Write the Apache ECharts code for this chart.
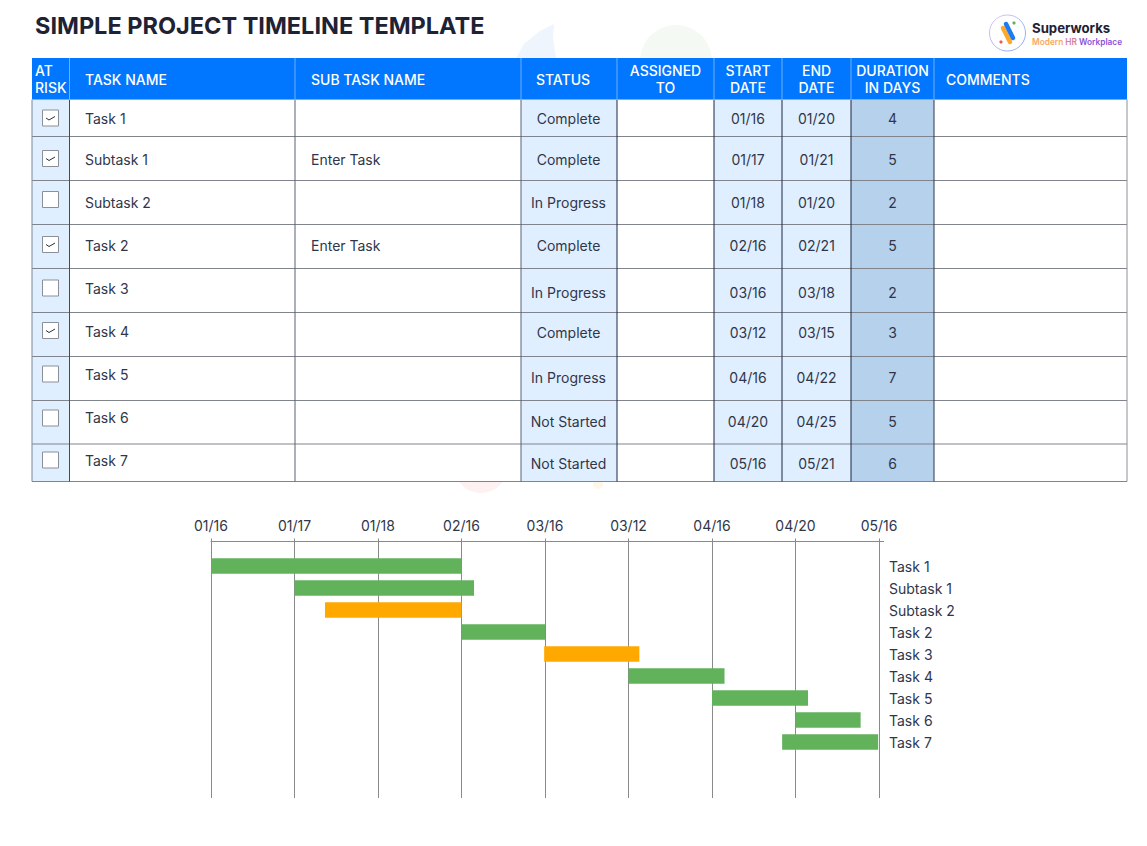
<!DOCTYPE html>
<html>
<head>
<meta charset="utf-8">
<title>Simple Project Timeline Template</title>
<script src="https://cdn.jsdelivr.net/npm/echarts@6/dist/echarts.min.js"></script>
<style>
  html, body { margin: 0; padding: 0; background: #fff; }
  #main { width: 1147px; height: 846px; }
</style>
</head>
<body>
<div id="main"></div>
<script>
// table content
const headers = ['AT\nRISK', 'TASK NAME', 'SUB TASK NAME', 'STATUS', 'ASSIGNED\nTO', 'START\nDATE', 'END\nDATE', 'DURATION\nIN DAYS', 'COMMENTS'];
const tasks = ['Task 1', 'Subtask 1', 'Subtask 2', 'Task 2', 'Task 3', 'Task 4', 'Task 5', 'Task 6', 'Task 7'];
const subTasks = ['', 'Enter Task', '', 'Enter Task', '', '', '', '', ''];
const atRisk = [true, true, false, true, false, true, false, false, false];
const statuses = ['Complete', 'Complete', 'In Progress', 'Complete', 'In Progress', 'Complete', 'In Progress', 'Not Started', 'Not Started'];
const startDates = ['01/16', '01/17', '01/18', '02/16', '03/16', '03/12', '04/16', '04/20', '05/16'];
const endDates = ['01/20', '01/21', '01/20', '02/21', '03/18', '03/15', '04/22', '04/25', '05/21'];
const durations = [4, 5, 2, 5, 2, 3, 7, 5, 6];

// gantt: bar ends are read in tick units, the axis is evenly spaced by label
const tickLabels = ['01/16', '01/17', '01/18', '02/16', '03/16', '03/12', '04/16', '04/20', '05/16'];
const barStart = [0, 1, 1.365, 3, 3.99, 5, 6, 7, 6.84];
const barEnd = [3, 3.15, 3, 4, 5.13, 6.15, 7.15, 7.78, 7.99];
const orangeBars = ['Subtask 2', 'Task 3'];  // the picture only colours these two orange

// table layout
const colX = [32, 69.5, 295, 521, 617, 714, 782, 851, 934, 1127];
const rowY = [58, 99.5, 136.5, 180.5, 224.5, 268.5, 312.5, 356.5, 400.5, 444, 481.5];
const taskTextY = [118, 159.5, 202.5, 245.5, 288.5, 331.5, 374.5, 417.5, 460.5];
const cellTextY = [118, 159.5, 202.5, 245.5, 292.5, 332.5, 377, 421, 463];
const boxY = [118, 158.5, 199.5, 244.5, 288, 330.5, 374, 418, 460];

const FONT = 'Inter, "Noto Sans", sans-serif';
const INK = '#30364a';
const GREEN = '#62b25c';
const ORANGE = '#ffa800';

function rect(x, y, w, h, fill) {
  return { type: 'rect', shape: { x, y, width: w, height: h }, style: { fill }, silent: true };
}
function line(x1, y1, x2, y2, stroke, lineWidth, lineCap) {
  return { type: 'line', shape: { x1, y1, x2, y2 }, style: { stroke, lineWidth: lineWidth || 1, lineCap: lineCap || 'butt' }, silent: true };
}
function label(x, y, text, align, extra) {
  return {
    type: 'text', x, y, silent: true,
    style: Object.assign({ text, fill: INK, font: '14px ' + FONT, textAlign: align || 'left', textVerticalAlign: 'middle' }, extra)
  };
}
const mid = i => (colX[i] + colX[i + 1]) / 2;

function buildGraphic() {
  const els = [];

  // faint watermark, the table covers most of it
  els.push({ type: 'polygon', shape: { points: [[516, 58], [524, 44], [540, 31], [554, 24], [553, 38], [556, 58]] }, style: { fill: '#eef5fd' }, silent: true });
  els.push({ type: 'circle', shape: { cx: 676, cy: 61, r: 36 }, style: { fill: '#f5f9f3' }, silent: true });
  els.push({ type: 'circle', shape: { cx: 481, cy: 466, r: 27 }, style: { fill: '#fdf1f1' }, silent: true });
  els.push({ type: 'circle', shape: { cx: 598, cy: 484, r: 5 }, style: { fill: '#fef7e8' }, silent: true });

  // title
  els.push(label(35, 25, 'SIMPLE PROJECT TIMELINE TEMPLATE', 'left', { font: '700 23.5px ' + FONT, fill: '#1e2235' }));

  // logo
  els.push({ type: 'circle', shape: { cx: 1007.5, cy: 33, r: 18 }, style: { fill: '#fff', stroke: new echarts.graphic.LinearGradient(0, 0, 1, 1, [{ offset: 0, color: '#dcc6ee' }, { offset: 1, color: '#7fa8f5' }]), lineWidth: 1 }, silent: true });
  els.push(line(1003, 28, 1010, 42, '#ffa92b', 4.5, 'round'));
  els.push(line(1006, 24, 1013, 38, '#1e7bf2', 4.5, 'round'));
  els.push({ type: 'circle', shape: { cx: 1001, cy: 42, r: 1.6 }, style: { fill: '#ef5a4c' }, silent: true });
  els.push({ type: 'circle', shape: { cx: 1014, cy: 23, r: 1.6 }, style: { fill: GREEN }, silent: true });
  els.push(label(1032, 28, 'Superworks', 'left', { font: '700 13.2px ' + FONT, fill: '#1e2235' }));
  els.push({
    type: 'text', x: 1032, y: 42, silent: true,
    style: {
      text: '{a|Modern} {b|HR} {c|Workplace}', textVerticalAlign: 'middle', font: '600 8.3px ' + FONT,
      rich: {
        a: { fill: '#f8a860', font: '600 8.3px ' + FONT },
        b: { fill: '#d47fa0', font: '600 8.3px ' + FONT },
        c: { fill: '#8a52dc', font: '600 8.3px ' + FONT }
      }
    }
  });

  // header and tinted columns
  const top = rowY[0], head = rowY[1], bottom = rowY[rowY.length - 1], right = colX[colX.length - 1];
  els.push(rect(colX[0], top, right - colX[0], head - top, '#0176ff'));
  els.push(rect(colX[0], head, right - colX[0], bottom - head, '#fff'));
  [[0, '#e0efff'], [3, '#e0efff'], [5, '#e0efff'], [6, '#e0efff'], [7, '#b5d1ec']].forEach(([c, fill]) => {
    els.push(rect(colX[c], head, colX[c + 1] - colX[c], bottom - head, fill));
  });

  // grid lines
  rowY.slice(2).forEach(y => els.push(line(colX[0], y, right, y, '#80848c')));
  const bodyStroke = ['#7d8798', '#3f4a63', '#59607a', '#59607a', '#1c2740', '#1c2740', '#1c2740', '#1c2740', '#2c3750', '#8c9096'];
  colX.forEach((x, i) => els.push(line(x, head, x, bottom, bodyStroke[i])));
  colX.slice(1, -1).forEach(x => els.push(line(x, top, x, head, '#6fb1ff')));
  els.push(line(colX[0], head, right, head, '#6fb1ff'));

  // header text
  const headX = { 0: 35, 1: 85, 2: 311, 8: 946 };
  headers.forEach((h, i) => {
    const left = headX[i] !== undefined;
    const x = left ? headX[i] : (i === 3 ? 563 : mid(i));
    const y = h.includes('\n') ? (top + head) / 2 : (top + head) / 2 + 0.5;
    els.push(label(x, y, h, left ? 'left' : 'center', { fill: '#fff', font: '500 14px ' + FONT, lineHeight: 17 }));
  });

  // rows
  tasks.forEach((t, r) => {
    const bx = 42.5, by = boxY[r] - 8;
    els.push({ type: 'rect', shape: { x: bx, y: by, width: 16, height: 16 }, style: { fill: '#fff', stroke: '#8a8f98', lineWidth: 1 }, silent: true });
    if (atRisk[r]) {
      els.push({ type: 'polyline', shape: { points: [[bx + 3.5, by + 8], [bx + 6.5, by + 10], [bx + 12.5, by + 6.5]] }, style: { stroke: '#2a2f3a', lineWidth: 1, fill: null }, silent: true });
    }
    els.push(label(85, taskTextY[r], t));
    if (subTasks[r]) els.push(label(311, cellTextY[r], subTasks[r]));
    els.push(label(mid(3) - 0.5, cellTextY[r], statuses[r], 'center'));
    els.push(label(mid(5), cellTextY[r], startDates[r], 'center'));
    els.push(label(mid(6), cellTextY[r], endDates[r], 'center'));
    els.push(label(mid(7), cellTextY[r], String(durations[r]), 'center'));
  });

  // axis line runs a little past the last tick
  els.push(line(879, 541.5, 884, 541.5, '#8a8a8a'));
  return els;
}

const chart = echarts.init(document.getElementById('main'), null, { renderer: 'svg' });
chart.setOption({
  animation: false,
  backgroundColor: '#fff',
  textStyle: { fontFamily: FONT },
  graphic: { elements: buildGraphic() },
  grid: [
    { left: 211, top: 541.5, width: 668, height: 256.5 },  // tick labels and tall grid lines
    { left: 211, top: 555, width: 668, height: 198 }       // task rows
  ],
  xAxis: [
    {
      gridIndex: 0, type: 'value', position: 'top', min: 0, max: 8, interval: 1,
      axisLine: { show: true, onZero: false, lineStyle: { color: '#8a8a8a' } },
      axisTick: { show: true, length: 3, lineStyle: { color: '#8a8a8a' } },
      splitLine: { show: true, lineStyle: { color: '#8a8a8a', width: 1 } },
      axisLabel: { color: INK, fontSize: 14, margin: 9, fontFamily: FONT, formatter: v => tickLabels[v] }
    },
    { gridIndex: 1, type: 'value', min: 0, max: 8, show: false }
  ],
  yAxis: [
    { gridIndex: 0, type: 'value', min: 0, max: 1, show: false },
    {
      gridIndex: 1, type: 'category', inverse: true, position: 'right', data: tasks,
      axisLine: { show: false }, axisTick: { show: false },
      axisLabel: { color: INK, fontSize: 14, margin: 10, fontFamily: FONT }
    }
  ],
  series: [
    {
      name: 'offset', type: 'bar', stack: 'gantt', xAxisIndex: 1, yAxisIndex: 1, barWidth: 15.5,
      itemStyle: { color: 'transparent' }, silent: true, data: barStart
    },
    {
      name: 'task', type: 'bar', stack: 'gantt', xAxisIndex: 1, yAxisIndex: 1, barWidth: 15.5,
      data: barEnd.map((e, i) => ({
        value: +(e - barStart[i]).toFixed(3),
        itemStyle: { color: orangeBars.includes(tasks[i]) ? ORANGE : GREEN }
      }))
    }
  ]
});
</script>
</body>
</html>
